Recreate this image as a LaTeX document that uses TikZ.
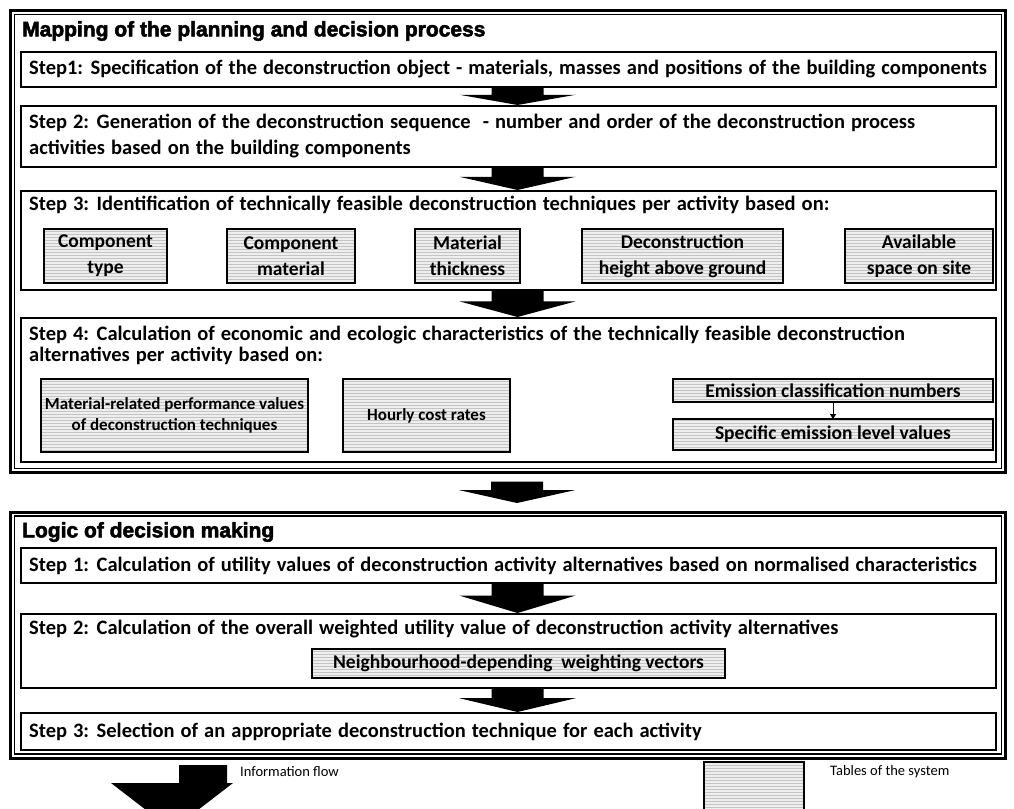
\documentclass[tikz,border=0pt]{standalone}
\usepackage{fontspec}
\setmainfont{Carlito}
\newfontfamily\headfont[FakeBold=2.5]{Liberation Sans}
\newfontfamily\stepfamily[WordSpace=1.3]{Carlito}
\usepackage{tikz}
\usetikzlibrary{arrows.meta, positioning, calc, patterns}
\definecolor{tablefill}{HTML}{EEEEEE}
\definecolor{tableline}{HTML}{C4C4C4}
\newcommand{\stepfont}{\stepfamily\bfseries\fontsize{20.5}{21}\selectfont}
\newcommand{\tablefont}{\bfseries\fontsize{19.5}{24}\selectfont}
\newcommand{\smalltablefont}{\bfseries\fontsize{17}{21}\selectfont}
\newcommand{\legendfont}{\fontsize{14.5}{18}\selectfont}

% block arrow from one box down to the next
\newcommand{\flowarrow}[3][1]{%
  \coordinate (fa top) at ($(#2.south)+(9,#1)$);
  \coordinate (fa tip) at ($(#3.north)+(9,-#1)$);
  \coordinate (fa base) at ($(fa top)!0.4!(fa tip)$);
  \fill[flow] ($(fa top)+(-26,0)$) -- ($(fa top)+(26,0)$) -- ($(fa base)+(26,0)$)
    -- ($(fa base)+(58,0)$) -- (fa tip) -- ($(fa base)+(-58,0)$)
    -- ($(fa base)+(-26,0)$) -- cycle;}

\begin{document}
\begin{tikzpicture}[x=1pt, y=-1pt,
    frame/.style={draw, line width=3pt, outer sep=0pt, inner sep=0pt},
    stepbox/.style={draw, line width=2pt, outer sep=0pt, inner sep=0pt, minimum width=975pt},
    steptext/.style={inner sep=0pt, align=left, font=\stepfont},
    tablebox/.style={draw, line width=2.2pt, outer sep=0pt, inner sep=0pt, align=center,
                     font=\tablefont, preaction={fill=tablefill},
                     pattern=horizontal lines, pattern color=tableline},
    flow/.style={fill=black},
    headline/.style={anchor=west, inner sep=0pt, font=\headfont\bfseries\fontsize{21}{24}\selectfont},
    legendtext/.style={anchor=west, inner sep=0pt, font=\legendfont}
  ]
    \fill[white] (0,0) rectangle (1014,808);
    \useasboundingbox (0,0) rectangle (1014,808);

    % Mapping of the planning and decision process
    \node[frame, minimum width=995pt, minimum height=462pt] (mapframe) at (508, 241.5) {};
    \draw[line width=1.3pt] ([shift={(4,4)}]mapframe.north west) rectangle ([shift={(-4,-4)}]mapframe.south east);
    \node[headline] (maptitle) at (22, 31) {Mapping of the planning and decision process};

    \node[stepbox, minimum height=35pt] (s1) at (508.5, 69.5) {};
    \node[steptext, right=8pt of s1.west] (s1text) {Step1: Specification of the deconstruction object - materials, masses and positions of the building components};

    \node[stepbox, minimum height=61pt] (s2) at (508.5, 136.5) {};
    \node[steptext, right=8pt of s2.west] (s2text) {Step 2: Generation of the deconstruction sequence \ - number and order of the deconstruction process\\[5pt] activities based on the building components};

    \node[stepbox, minimum height=99pt] (s3) at (508.5, 240.5) {};
    \node[steptext, below right=5pt and 8pt of s3.north west] (s3text) {Step 3: Identification of technically feasible deconstruction techniques per activity based on:};
    \node[tablebox, minimum width=123pt, minimum height=54pt] (t1) at (105.5, 256) {Component\\[2pt]type};
    \node[tablebox, minimum width=128pt, minimum height=54pt] (t2) at (291, 256) {Component\\[2pt]material};
    \node[tablebox, minimum width=105pt, minimum height=54pt] (t3) at (467.5, 256) {Material\\[2pt]thickness};
    \node[tablebox, minimum width=201pt, minimum height=54pt] (t4) at (682.5, 256) {Deconstruction\\[2pt]height above ground};
    \node[tablebox, minimum width=148pt, minimum height=54pt] (t5) at (919, 256) {Available\\[2pt]space on site};

    \node[stepbox, minimum height=144pt] (s4) at (508.5, 390) {};
    \node[steptext, below right=8pt and 8pt of s4.north west] (s4text) {Step 4: Calculation of economic and ecologic characteristics of the technically feasible deconstruction\\ alternatives per activity based on:};
    \node[tablebox, font=\smalltablefont, minimum width=267pt, minimum height=73pt] (t6) at (174.5, 415.5) {Material-related performance values\\ of deconstruction techniques};
    \node[tablebox, font=\smalltablefont, minimum width=167pt, minimum height=73pt] (t7) at (426.5, 415.5) {Hourly cost rates};
    \node[tablebox, minimum width=320pt, minimum height=23pt] (t8) at (833, 390.5) {Emission classification numbers};
    \node[tablebox, minimum width=320pt, minimum height=31pt] (t9) at (833, 434.5) {Specific emission level values};
    \draw[-{Triangle[length=5pt, width=6pt]}, line width=1pt] (t8) -- (t9);

    % Logic of decision making
    \node[frame, minimum width=995pt, minimum height=246pt] (logicframe) at (508, 635) {};
    \draw[line width=1.3pt] ([shift={(4,4)}]logicframe.north west) rectangle ([shift={(-4,-4)}]logicframe.south east);
    \node[headline] (logictitle) at (22, 532) {Logic of decision making};

    \node[stepbox, minimum height=35pt] (l1) at (508.5, 565.5) {};
    \node[steptext, right=8pt of l1.west] (l1text) {Step 1: Calculation of utility values of deconstruction activity alternatives based on normalised characteristics};

    \node[stepbox, minimum height=74pt] (l2) at (508.5, 651) {};
    \node[steptext, below right=6pt and 8pt of l2.north west] (l2text) {Step 2: Calculation of the overall weighted utility value of deconstruction activity alternatives};
    \node[tablebox, minimum width=413pt, minimum height=29pt] (t10) at (518.5, 663.5) {Neighbourhood-depending \ weighting vectors};

    \node[stepbox, minimum height=37pt] (l3) at (508.5, 731.5) {};
    \node[steptext, right=8pt of l3.west] (l3text) {Step 3: Selection of an appropriate deconstruction technique for each activity};

    % Arrows
    \flowarrow{s1}{s2}
    \flowarrow{s2}{s3}
    \flowarrow{s3}{s4}
    \flowarrow[9]{mapframe}{logicframe}
    \flowarrow{l1}{l2}
    \flowarrow{l2}{l3}

    % Legend
    \fill[flow] (179,765) -- (227,765) -- (227,783) -- (233,783) -- (172,830) -- (111,783) -- (179,783) -- cycle;
    \node[legendtext] (flowlabel) at (240, 772) {Information flow};
    \node[tablebox, line width=1.5pt, minimum width=100pt, minimum height=60pt] (legbox) at (754, 792) {};
    \node[legendtext] (tablelabel) at (830, 772) {Tables of the system};
\end{tikzpicture}
\end{document}
